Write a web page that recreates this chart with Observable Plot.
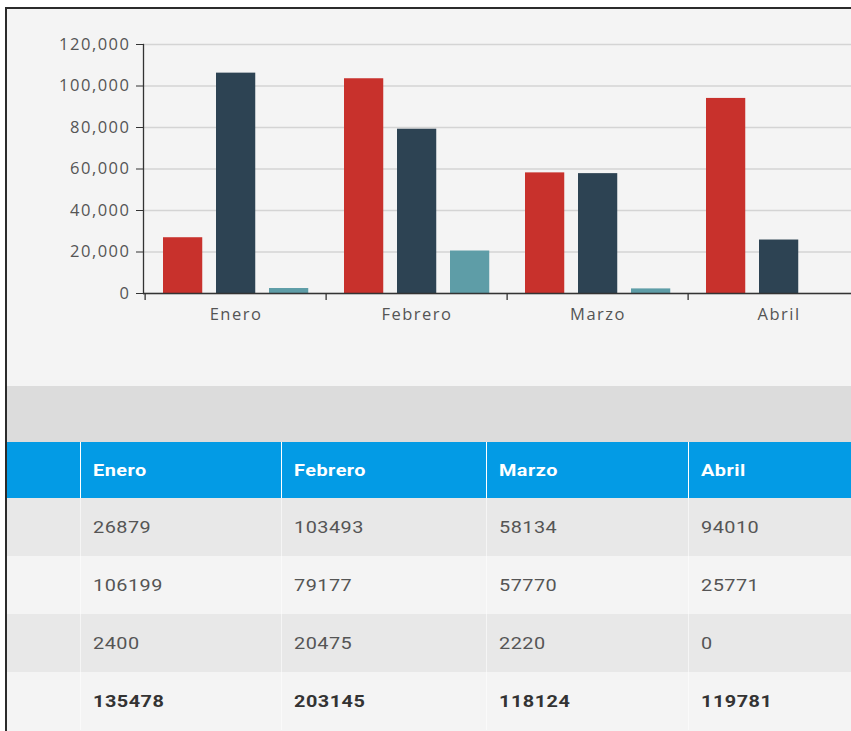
<!DOCTYPE html>
<html>
<head>
<meta charset="utf-8">
<script src="https://cdn.jsdelivr.net/npm/d3@7"></script>
<script src="https://cdn.jsdelivr.net/npm/@observablehq/plot@0.6"></script>
<style>
  html, body { margin: 0; padding: 0; background: #ffffff; width: 851px; height: 731px; overflow: hidden; }
  #wrap {
    position: absolute; left: 5px; top: 7px;
    width: 900px; height: 800px;
    border-left: 2px solid #2b2b2b; border-top: 2px solid #2b2b2b;
    background: #f4f4f4; overflow: hidden;
  }
  #chart { height: 377px; }
  #chart svg { display: block; }
  #chart svg text { letter-spacing: 1.5px; }
  #band { height: 56px; background: #dcdcdc; }
  table { border-collapse: collapse; table-layout: fixed; font-family: Roboto, sans-serif; font-size: 16px; }
  th, td { text-align: left; padding: 0 0 0 12px; white-space: nowrap; }
  th span, td span { display: inline-block; transform: scaleX(1.24); transform-origin: left center; letter-spacing: 0.4px; }
  th { background: #039be5; color: #ffffff; font-weight: 700; height: 56px; border-left: 1px solid #ffffff; }
  td { color: #555555; height: 58px; border-left: 1px solid rgba(255,255,255,0.55); }
  th:first-child, td:first-child { border-left: none; }
  tbody tr:nth-child(odd) td { background: #e8e8e8; }
  tbody tr:nth-child(even) td { background: #f4f4f4; }
  tr.total td { font-weight: 700; color: #333333; }
</style>
</head>
<body>
<div id="wrap">
  <div id="chart"></div>
  <div id="band"></div>
  <div id="table"></div>
</div>
<script>
// ---- data ----
const months = ["Enero", "Febrero", "Marzo", "Abril"];
const seriesNames = ["Serie 1", "Serie 2", "Serie 3"];
const serie1 = [26879, 103493, 58134, 94010];
const serie2 = [106199, 79177, 57770, 25771];
const serie3 = [2400, 20475, 2220, 0];
const totals = [135478, 203145, 118124, 119781];
const seriesColors = ["#c8312c", "#2d4353", "#5e9da7"];
const yTicks = [0, 20000, 40000, 60000, 80000, 100000, 120000];

const seriesValues = [serie1, serie2, serie3];

// ---- chart ----
const W = 870, H = 377, mL = 136, mR = 7, mT = 35, mB = 93;
const step = (W - mL - mR) / months.length;
const barW = 40, outerPad = 18, gap = 13;
const fmt = d3.format(",");

const barMarks = seriesValues.map((vals, k) => {
  const rows = months.map((m, i) => ({month: m, value: vals[i], serie: seriesNames[k]}));
  const insetLeft = outerPad + k * (barW + gap);
  const insetRight = step - insetLeft - barW;
  return Plot.barY(rows, {x: "month", y: "value", fill: seriesColors[k], insetLeft, insetRight});
});

const chart = Plot.plot({
  width: W, height: H,
  marginLeft: mL, marginRight: mR, marginTop: mT, marginBottom: mB,
  style: {background: "transparent", fontFamily: "'Open Sans', sans-serif", fontSize: "16.5px", color: "#555555", overflow: "visible"},
  x: {domain: months, padding: 0, axis: null, label: null},
  y: {domain: [0, 120000], axis: null, label: null},
  marks: [
    Plot.gridY(yTicks, {stroke: "#d4d4d4", strokeOpacity: 1, strokeWidth: 1.5}),
    ...barMarks,
    Plot.frame({anchor: "left", stroke: "#333333", strokeWidth: 1.3}),
    Plot.ruleY([0], {stroke: "#333333", strokeWidth: 1.5}),
    Plot.axisY(yTicks, {tickSize: 7, tickPadding: 6, tickFormat: fmt, label: null, stroke: "#333333", fill: "#555555"}),
    Plot.axisX({tickSize: 0, tickPadding: 15, label: null, fill: "#555555"}),
    Plot.axisX({tickSize: 7, tickFormat: () => "", label: null, dx: -step / 2, stroke: "#333333", strokeWidth: 1.3})
  ]
});
document.getElementById("chart").appendChild(chart);

// ---- table ----
const colWidths = [73, 201, 205, 202, 210];
let html = "<table><colgroup>" + colWidths.map(w => `<col style="width:${w}px">`).join("") + "</colgroup>";
html += "<thead><tr><th></th>" + months.map(m => `<th><span>${m}</span></th>`).join("") + "</tr></thead><tbody>";
seriesValues.forEach(vals => {
  html += "<tr><td></td>" + vals.map(v => `<td><span>${v}</span></td>`).join("") + "</tr>";
});
html += '<tr class="total"><td></td>' + totals.map(v => `<td><span>${v}</span></td>`).join("") + "</tr>";
html += "</tbody></table>";
document.getElementById("table").innerHTML = html;
</script>
</body>
</html>
